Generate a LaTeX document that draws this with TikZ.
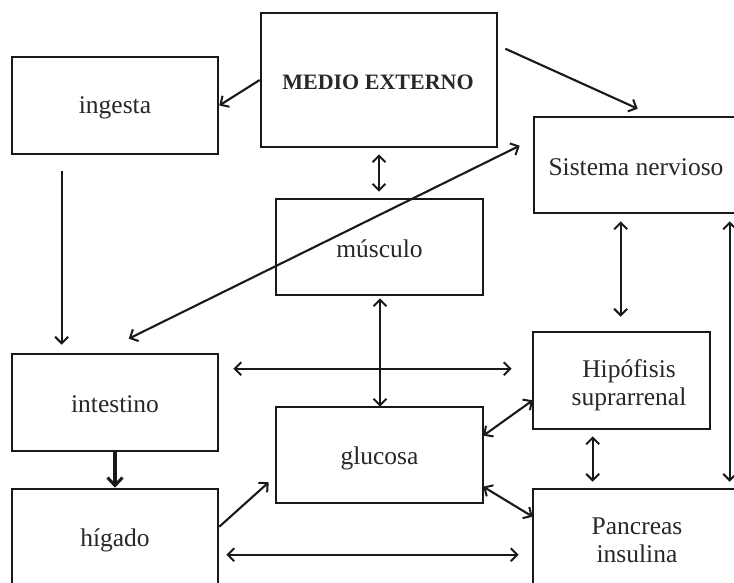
\documentclass[tikz,border=0pt]{standalone}
\usepackage{fontspec}
\setmainfont{Liberation Serif}
\usetikzlibrary{arrows.meta,calc}
\definecolor{txt}{RGB}{40,40,40}
\definecolor{ln}{RGB}{25,25,25}
\tikzset{
  box/.style={draw=ln,line width=2.6pt,rectangle,inner sep=0pt},
  lbl/.style={text=txt,font=\fontsize{25.5}{28}\selectfont,align=center,inner sep=0pt},
  tip/.style={line width=2.1pt,draw=ln},
  one/.style={tip,-{Straight Barb[length=6.5pt,width=13pt,line width=2pt]}},
  two/.style={tip,{Straight Barb[length=6.5pt,width=13pt,line width=2pt]}-{Straight Barb[length=6.5pt,width=13pt,line width=2pt]}},
  thick1/.style={line width=3.4pt,draw=ln,-{Straight Barb[length=8pt,width=15pt,line width=3pt]}}
}
\begin{document}
\begin{tikzpicture}[x=1pt,y=-1pt]
\useasboundingbox (0,0) rectangle (734,582);
\fill[white] (0,0) rectangle (734,582);
\clip (0,0) rectangle (734,582);
% boxes
\node[box,minimum width=236pt,minimum height=134pt] (medio) at (379,80) {};
\node[text=txt,font=\fontsize{22}{24}\selectfont\bfseries,inner sep=0pt] (medioT) at (378,82) {MEDIO EXTERNO};
\node[box,minimum width=206pt,minimum height=97pt] (ingesta) at (115,105.5) {};
\node[lbl] (ingestaT) at (115,108) {ingesta};
\node[box,minimum width=236pt,minimum height=96pt] (sistema) at (652,165) {};
\node[lbl] (sistemaT) at (636,167) {Sistema nervioso};
\node[box,minimum width=207pt,minimum height=96pt] (musculo) at (379.5,247) {};
\node[lbl] (musculoT) at (379.5,249) {músculo};
\node[box,minimum width=206pt,minimum height=97pt] (intestino) at (115,402.5) {};
\node[lbl] (intestinoT) at (115,404) {intestino};
\node[box,minimum width=207pt,minimum height=96pt] (glucosa) at (379.5,455) {};
\node[lbl] (glucosaT) at (379.5,458) {glucosa};
\node[box,minimum width=206pt,minimum height=97pt] (higado) at (115,537.5) {};
\node[lbl] (higadoT) at (115,540) {hígado};
\node[box,minimum width=177pt,minimum height=97pt] (hipofisis) at (621.5,380.5) {};
\node[lbl] (hipofisisT) at (629,385) {Hipófisis\\suprarrenal};
\node[box,minimum width=236pt,minimum height=97pt] (pancreas) at (651,537.5) {};
\node[lbl] (pancreasT) at (637,540) {Pancreas\\insulina};
% connectors
\draw[one] (medio.west) -- (ingesta.east);
\draw[one] ($(medio.north east)+(7,37)$) -- ($(sistema.north west)+(105,-7)$);
\draw[two] ($(medio.south)+(0,6)$) -- ($(musculo.north)+(-0.5,-6)$);
\draw[one] ($(ingesta.south west)+(51,16)$) -- ($(intestino.north west)+(51,-8)$);
\draw[two] ($(intestino.north west)+(118,-14)$) -- ($(sistema.north west)+(-13,30)$);
\draw[two] ($(musculo.south)+(0.5,2)$) -- ($(glucosa.north)+(0.5,1)$);
\draw[two] ($(intestino.north east)+(14,16)$) -- ($(hipofisis.north west)+(-20,38)$);
\draw[thick1] (intestino.south) -- (higado.north);
\draw[one] ($(higado.north east)+(0,39)$) -- ($(glucosa.south west)+(-6,-22)$);
\draw[two] ($(higado.north east)+(7,67)$) -- ($(pancreas.north west)+(-13,67)$);
\draw[two] ($(glucosa.north east)+(-1,30)$) -- ($(hipofisis.south west)+(1,-30)$);
\draw[two] ($(glucosa.north east)+(-1,81)$) -- ($(pancreas.north west)+(1,29)$);
\draw[two] ($(hipofisis.south west)+(61,6)$) -- ($(pancreas.north west)+(61,-6)$);
\draw[two] ($(sistema.south west)+(88,7)$) -- ($(hipofisis.north west)+(89,-14)$);
\draw[two] ($(sistema.south west)+(197,7)$) -- ($(pancreas.north west)+(198,-6)$);
\end{tikzpicture}
\end{document}
